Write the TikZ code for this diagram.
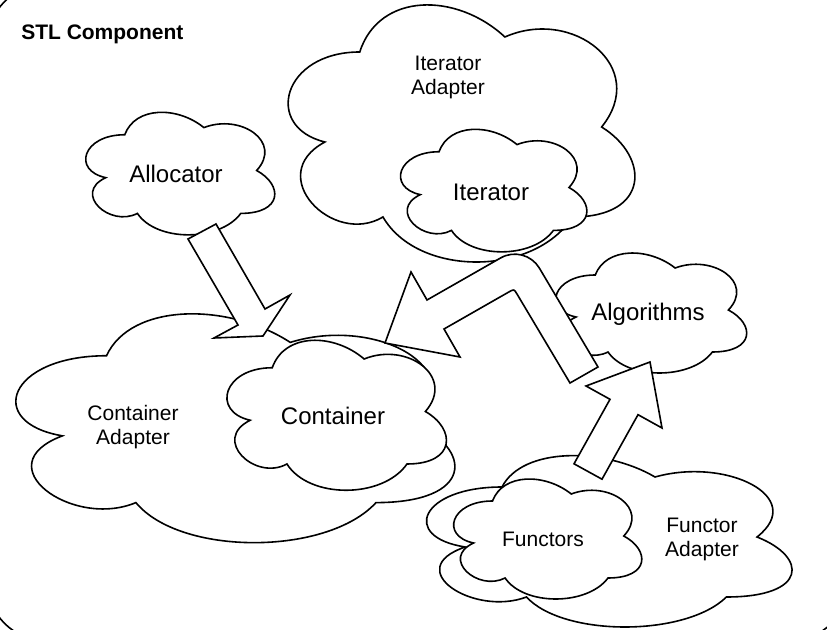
\documentclass[tikz,border=0pt]{standalone}
\usepackage{fontspec}
\setmainfont{Liberation Sans}
\tikzset{
  outline/.style={draw=black, line width=1.2pt, line join=miter, fill=white},
  big/.style={font=\fontsize{18}{21}\selectfont, align=center, inner sep=0pt, yshift=-1.5pt},
  small/.style={font=\fontsize{15.75}{18}\selectfont, align=center, inner sep=0pt, yshift=-1.8pt},
  titletext/.style={font=\fontsize{15.75}{18}\selectfont\bfseries, inner sep=0pt, anchor=west, yshift=-2pt},
}
\newcommand\drawcloud[4]{%
  \begin{scope}[shift={(#1,#2)},xscale=#3,yscale=#4]
    \path[outline] (0.25,0.25) .. controls (0.05,0.25) and (0,0.5) .. (0.16,0.55)
      .. controls (0,0.66) and (0.18,0.9) .. (0.31,0.8)
      .. controls (0.4,1) and (0.7,1) .. (0.8,0.8)
      .. controls (1,0.8) and (1,0.6) .. (0.875,0.5)
      .. controls (1,0.3) and (0.8,0.1) .. (0.625,0.2)
      .. controls (0.5,0.05) and (0.3,0.05) .. (0.25,0.25) -- cycle;
  \end{scope}}
\begin{document}
\begin{tikzpicture}[x=0.75pt,y=-0.75pt]
\useasboundingbox (0,0) rectangle (827,630);
\clip (0,0) rectangle (827,630);
% outer frame
\draw[line width=1.2pt, rounded corners=45pt] (-13,-16) rectangle (849,641);
\node[titletext] (title) at (21,32) {STL Component};
% Container Adapter + Container
\drawcloud{-16}{289}{490}{267}
\node[small] (cadapt) at (133,425) {Container\\Adapter};
\drawcloud{211}{324}{245}{175}
\node[big] (cont) at (333,414) {Container};
% Iterator Adapter + Iterator
\drawcloud{263}{-23}{387}{300}
\node[small] (iadapt) at (448,75) {Iterator\\Adapter};
\drawcloud{387}{116}{208}{143}
\node[big] (iter) at (491,190) {Iterator};
% Allocator
\drawcloud{72}{99}{211}{143}
\node[big] (alloc) at (176,172) {Allocator};
% Algorithms
\drawcloud{542}{240}{213}{140}
\node[big] (algo) at (648,312) {Algorithms};
% Functor Adapter + Functors
\drawcloud{400}{437}{408}{200}
\node[small] (fadapt) at (702,537) {Functor\\Adapter};
\drawcloud{440}{466}{210}{140}
\node[small] (func) at (543,537) {Functors};
% block arrows
\path[outline] (188,239) -- (216,224) -- (265,309) -- (290,295) -- (263,336)
  -- (214,338) -- (238,325) -- cycle;
\path[outline] (385,343) -- (411,272) -- (427,300) -- (500.7,257.9)
  .. controls (514.1,250.2) and (531.4,254.8) .. (539.3,268)
  -- (598,367) -- (570,383) -- (517.1,294.2) .. controls (514,289) .. (508.8,292)
  -- (444,329) -- (460,357) -- cycle;
\path[outline] (574,463.8) -- (610,399.3) -- (586,386) -- (650,362) -- (662,428)
  -- (638,414.7) -- (602,479.2) -- cycle;
\end{tikzpicture}
\end{document}
